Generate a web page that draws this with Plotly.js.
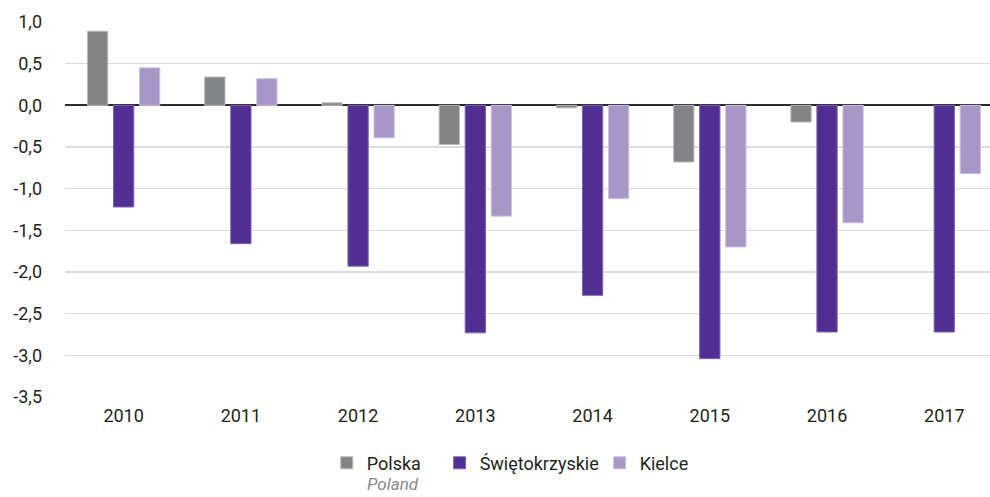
<!DOCTYPE html>
<html>
<head>
<meta charset="utf-8">
<script src="https://cdn.plot.ly/plotly-3.0.1.min.js"></script>
<style>
html,body{margin:0;padding:0;background:#fff;overflow:hidden;}
#chart{width:990px;height:497px;}
</style>
</head>
<body>
<div id="chart"></div>
<script>
const years = ['2010','2011','2012','2013','2014','2015','2016','2017'];
const polska = [0.89, 0.34, 0.03, -0.47, -0.03, -0.68, -0.20, null];
const swietokrzyskie = [-1.22, -1.66, -1.93, -2.73, -2.28, -3.04, -2.72, -2.72];
const kielce = [0.45, 0.32, -0.39, -1.33, -1.12, -1.70, -1.41, -0.82];
const yTicks = [1.0, 0.5, 0.0, -0.5, -1.0, -1.5, -2.0, -2.5, -3.0, -3.5];
const yTickText = yTicks.map(v => v.toFixed(1).replace('.', ','));

const FONT = 'Roboto, "Noto Sans", sans-serif';

const traces = [
  {type:'bar', name:'Polska', x:years, y:polska, legend:'legend',
   marker:{color:'#838487', line:{color:'#b8b9bb', width:1}}, hoverinfo:'skip'},
  {type:'bar', name:'Świętokrzyskie', x:years, y:swietokrzyskie, legend:'legend2',
   marker:{color:'#512E91', line:{color:'#7e65b5', width:1}}, hoverinfo:'skip'},
  {type:'bar', name:'Kielce', x:years, y:kielce, legend:'legend3',
   marker:{color:'#A896C6', line:{color:'#cdc2e2', width:1}}, hoverinfo:'skip'}
];

function leg(x){
  return {orientation:'h', x:x, y:-0.127, xanchor:'left', yanchor:'top',
    font:{family:FONT, size:18, color:'#231f20'}, bgcolor:'rgba(0,0,0,0)',
    itemwidth:30, tracegroupgap:0};
}

const layout = {
  width:990, height:497,
  margin:{l:65, r:0, t:22, b:100},
  paper_bgcolor:'#fff', plot_bgcolor:'#fff',
  separators:',.',
  barmode:'group', bargap:0.334, bargroupgap:0.22,
  font:{family:FONT, size:17, color:'#231f20'},
  showlegend:true,
  legend:leg(0.283),
  legend2:leg(0.405),
  legend3:leg(0.578),
  xaxis:{type:'category', range:[-0.5, 7.39], showgrid:false, showline:false, zeroline:false,
    ticks:'', tickfont:{family:FONT, size:18, color:'#231f20'}, ticklabelstandoff:6, fixedrange:true},
  yaxis:{range:[-3.5, 1.0], tickvals:yTicks, ticktext:yTickText, showgrid:true, gridcolor:'#dcdcdc', gridwidth:1.5,
    zeroline:true, zerolinecolor:'#2b2b2b', zerolinewidth:2, showline:false, ticks:'',
    tickfont:{family:FONT, size:18, color:'#231f20'}, ticklabelstandoff:22, fixedrange:true},
  annotations:[
    {text:'<i>Poland</i>', xref:'paper', yref:'paper', x:(365-65)/925, y:-0.2, xanchor:'left', yanchor:'top',
     showarrow:false, font:{family:FONT, size:17, color:'#8a8a8a'}}
  ]
};

Plotly.newPlot('chart', traces, layout, {displayModeBar:false, staticPlot:true});
</script>
</body>
</html>
